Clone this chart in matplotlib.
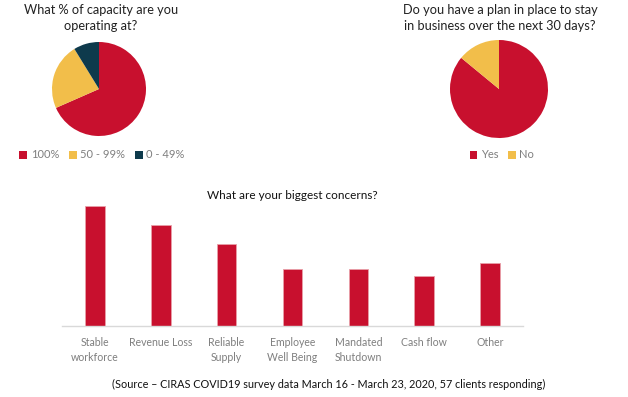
import matplotlib.pyplot as plt

plt.rcParams['font.family'] = ['Lato', 'DejaVu Sans']

# Données
cap_labels = ['100%', '50 - 99%', '0 - 49%']
cap_counts = [39, 13, 5]

plan_labels = ['Yes', 'No']
plan_counts = [49, 8]

concerns = ['Stable\nworkforce', 'Revenue Loss', 'Reliable\nSupply',
            'Employee\nWell Being', 'Mandated\nShutdown', 'Cash flow', 'Other']
concern_counts = [19, 16, 13, 9, 9, 8, 10]

red = '#C8102E'
yellow = '#F2BE4A'
navy = '#0E3A4C'
grey = '#7F7F7F'

W, H = 628, 397
fig = plt.figure(figsize=(W / 100, H / 100), dpi=100)


def px_axes(x0, y0, x1, y1):
    # coordonnées en pixels (origine en haut à gauche)
    return fig.add_axes([x0 / W, 1 - y1 / H, (x1 - x0) / W, (y1 - y0) / H])


# Camembert 1
ax1 = px_axes(52, 42, 146, 136)
w1, _ = ax1.pie(cap_counts, colors=[red, yellow, navy], startangle=90,
                counterclock=False, radius=1)
ax1.set_xlim(-1, 1)
ax1.set_ylim(-1, 1)
fig.text(101 / W, 1 - 18 / H, 'What % of capacity are you\noperating at?',
         ha='center', va='center', fontsize=9.2, color='#222222', linespacing=1.35)
fig.legend(w1, cap_labels, loc='center', bbox_to_anchor=(102 / W, 1 - 155 / H),
           ncol=3, frameon=False, fontsize=8, handlelength=0.7, handleheight=0.7,
           handletextpad=0.3, columnspacing=0.9, labelcolor=grey)

# Camembert 2
ax2 = px_axes(450, 40, 548, 138)
w2, _ = ax2.pie(plan_counts, colors=[red, yellow], startangle=90,
                counterclock=False, radius=1)
ax2.set_xlim(-1, 1)
ax2.set_ylim(-1, 1)
fig.text(500 / W, 1 - 18 / H, 'Do you have a plan in place to stay\nin business over the next 30 days?',
         ha='center', va='center', fontsize=9.2, color='#222222', linespacing=1.35)
fig.legend(w2, plan_labels, loc='center', bbox_to_anchor=(502 / W, 1 - 155 / H),
           ncol=2, frameon=False, fontsize=8, handlelength=0.7, handleheight=0.7,
           handletextpad=0.3, columnspacing=0.9, labelcolor=grey)

# Barres
ax3 = px_axes(61.7, 200, 523.3, 326)
x = range(len(concerns))
ax3.bar(x, concern_counts, width=0.3, color=red, edgecolor='#E8A0A8', linewidth=0.6)
ax3.set_xlim(-0.5, len(concerns) - 0.5)
ax3.set_ylim(0, 20)
ax3.set_xticks(list(x))
ax3.set_xticklabels(concerns, fontsize=7.6, color=grey, linespacing=1.4)
ax3.tick_params(axis='x', length=0, pad=8)
ax3.set_yticks([])
for s in ['top', 'right', 'left']:
    ax3.spines[s].set_visible(False)
ax3.spines['bottom'].set_color('#D9D9D9')
ax3.spines['bottom'].set_linewidth(1)
fig.text(292.5 / W, 1 - 195 / H, 'What are your biggest concerns?',
         ha='center', va='center', fontsize=8.5, color='#111111')

fig.text(329 / W, 1 - 384 / H,
         '(Source \u2013 CIRAS COVID19 survey data March 16 - March 23, 2020, 57 clients responding)',
         ha='center', va='center', fontsize=7.8, color='#111111')

fig.savefig('out.png', dpi=100)
